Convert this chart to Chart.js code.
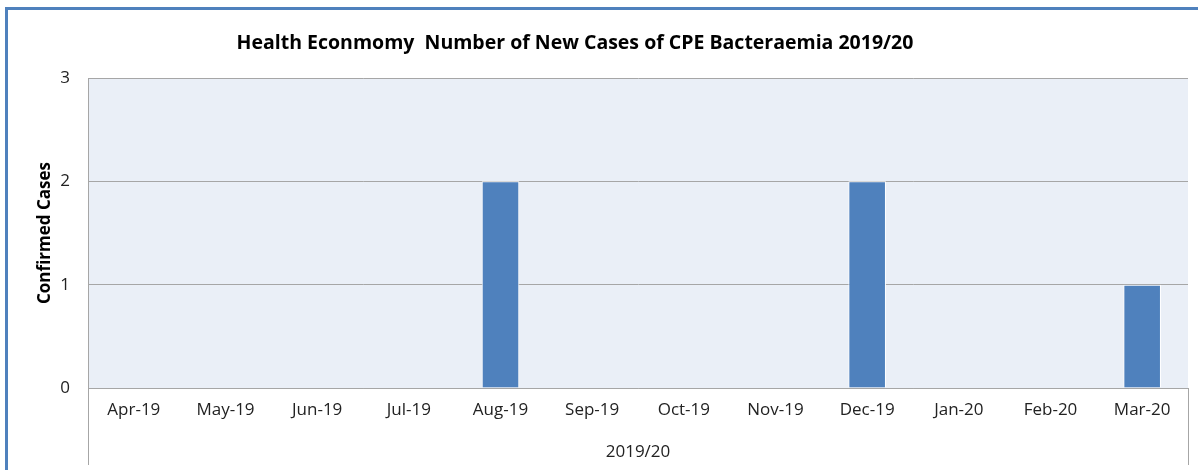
<!DOCTYPE html>
<html>
<head>
<meta charset="utf-8">
<script src="https://cdn.jsdelivr.net/npm/chart.js@4/dist/chart.umd.min.js"></script>
<style>
  html, body { margin: 0; padding: 0; background: #ffffff; }
  #wrap { position: relative; width: 1198px; height: 470px; overflow: hidden; }
  #frame {
    position: absolute; left: 5px; top: 7px; width: 1300px; height: 600px;
    border-top: 3px solid #4F81BD; border-left: 3px solid #4F81BD;
    box-sizing: border-box;
  }
  canvas { position: absolute; left: 0; top: 0; }
</style>
</head>
<body>
<div id="wrap">
  <div id="frame"></div>
  <canvas id="casesChart" width="1198" height="470"></canvas>
</div>
<script>
// Chart data
const chartTitle = "Health Econmomy  Number of New Cases of CPE Bacteraemia 2019/20";
const months = ["Apr-19", "May-19", "Jun-19", "Jul-19", "Aug-19", "Sep-19",
  "Oct-19", "Nov-19", "Dec-19", "Jan-20", "Feb-20", "Mar-20"];
const newCases = [0, 0, 0, 0, 2, 0, 0, 0, 2, 0, 0, 1];
const yTicks = [0, 1, 2, 3];

const fontFamily = "'Open Sans', Lato, sans-serif";

// Plot area background, title and the long category edge lines
const excelLook = {
  id: "excelLook",
  beforeDraw(chart) {
    const { ctx, chartArea } = chart;
    ctx.save();
    ctx.fillStyle = "#EAEFF7";
    ctx.fillRect(chartArea.left, chartArea.top, chartArea.width, chartArea.height);
    ctx.restore();
  },
  afterDraw(chart) {
    const { ctx, chartArea } = chart;
    ctx.save();
    ctx.strokeStyle = "#A6A6A6";
    ctx.lineWidth = 1;
    ctx.beginPath();
    ctx.moveTo(chartArea.left + 0.5, chartArea.top);
    ctx.lineTo(chartArea.left + 0.5, 465);
    ctx.moveTo(chartArea.right + 0.5, chartArea.bottom);
    ctx.lineTo(chartArea.right + 0.5, 465);
    ctx.stroke();

    ctx.fillStyle = "#000000";
    ctx.font = "bold 19.5px " + fontFamily;
    ctx.textAlign = "center";
    ctx.textBaseline = "middle";
    ctx.fillText(chartTitle, 575, 43);
    ctx.restore();
  },
};

const ctx = document.getElementById("casesChart").getContext("2d");
const casesChart = new Chart(ctx, {
  type: "bar",
  data: {
    labels: months,
    datasets: [
      {
        label: "Confirmed Cases",
        data: newCases,
        backgroundColor: "#4F81BD",
        borderColor: "#FFFFFF",
        borderWidth: 1,
        barPercentage: 0.41,
        categoryPercentage: 1,
      },
    ],
  },
  options: {
    responsive: false,
    animation: false,
    layout: {
      padding: { top: 78, right: 10, left: 0, bottom: 0 },
    },
    plugins: {
      legend: { display: false },
      tooltip: { enabled: false },
    },
    scales: {
      x: {
        grid: { display: false, drawTicks: false },
        border: { display: true, color: "#A6A6A6" },
        ticks: {
          color: "#222222",
          padding: 12,
          maxRotation: 0,
          autoSkip: false,
          font: { family: fontFamily, size: 17 },
        },
        title: {
          display: true,
          text: "2019/20",
          color: "#222222",
          padding: { top: 0, bottom: 8 },
          font: { family: fontFamily, size: 17 },
        },
        afterFit(scale) {
          scale.height = 82;
        },
      },
      y: {
        min: 0,
        max: 3,
        afterBuildTicks(scale) {
          scale.ticks = yTicks.map((v) => ({ value: v }));
        },
        grid: { color: "#A6A6A6", drawTicks: false },
        border: { display: true, color: "#A6A6A6" },
        ticks: {
          color: "#222222",
          padding: 18,
          font: { family: fontFamily, size: 17 },
        },
        title: {
          display: true,
          text: "Confirmed Cases",
          color: "#000000",
          padding: { top: 35, bottom: 0 },
          font: { family: fontFamily, size: 17, weight: "bold" },
        },
        afterFit(scale) {
          scale.width = 88;
        },
      },
    },
  },
  plugins: [excelLook],
});
</script>
</body>
</html>
